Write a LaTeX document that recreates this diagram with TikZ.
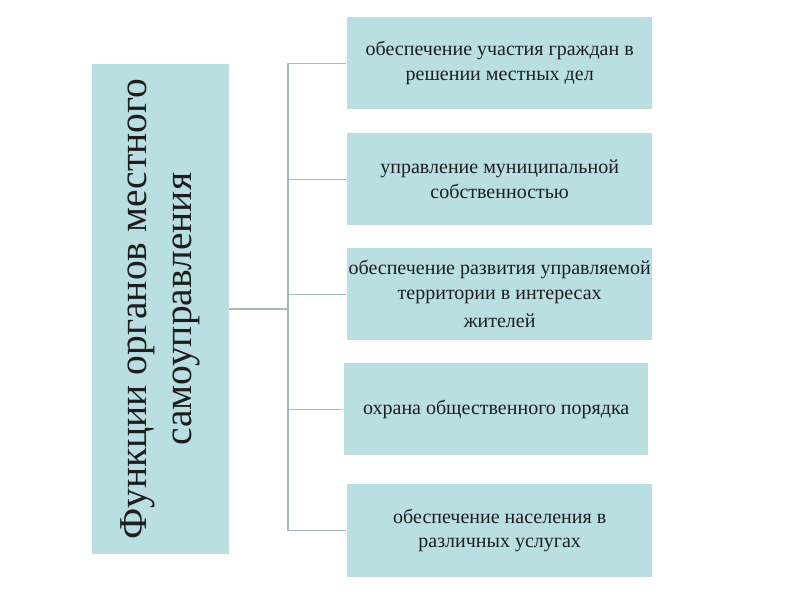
\documentclass[tikz,border=0pt]{standalone}
\usepackage{fontspec}
\setmainfont{Liberation Serif}
\definecolor{boxfill}{HTML}{BADFE3}
\definecolor{linecol}{HTML}{A2B8BC}
\definecolor{txt}{HTML}{1E1E1E}
\begin{document}
\begin{tikzpicture}[x=1pt,y=-1pt,
  fnbox/.style={fill=boxfill,draw=none,minimum width=305pt,minimum height=92pt,inner sep=0pt,anchor=north west,align=center,text=txt,font=\fontsize{20}{24.5}\selectfont},
  conn/.style={draw=linecol,line width=1.4pt}]
\useasboundingbox (0,0) rectangle (800,600);
\node[fill=boxfill,minimum width=137pt,minimum height=490pt,inner sep=0pt,anchor=north west] (L) at (91.5,64) {};
\node[rotate=90,align=center,text=txt,font=\fontsize{39.5}{45}\selectfont] (T) at (L.center) {Функции органов местного\\самоуправления};
\node[fnbox] (b1) at (347,17) {обеспечение участия граждан в\\решении местных дел};
\node[fnbox] (b2) at (347,133) {управление муниципальной\\собственностью};
\node[fnbox] (b3) at (347,248) {обеспечение развития управляемой\\территории в интересах\\[4pt]жителей};
\node[fnbox,minimum width=304pt] (b4) at (344,363) {охрана общественного порядка};
\node[fnbox,minimum height=93pt] (b5) at (347,484) {обеспечение населения в\\различных услугах};
\coordinate (j) at (288,309);
\draw[conn] (L.east |- j) -- (j);
\foreach \b in {b1,b2,b3,b4,b5} {\draw[conn] ([xshift=-1pt]\b.west) -| (j);}
\end{tikzpicture}
\end{document}
